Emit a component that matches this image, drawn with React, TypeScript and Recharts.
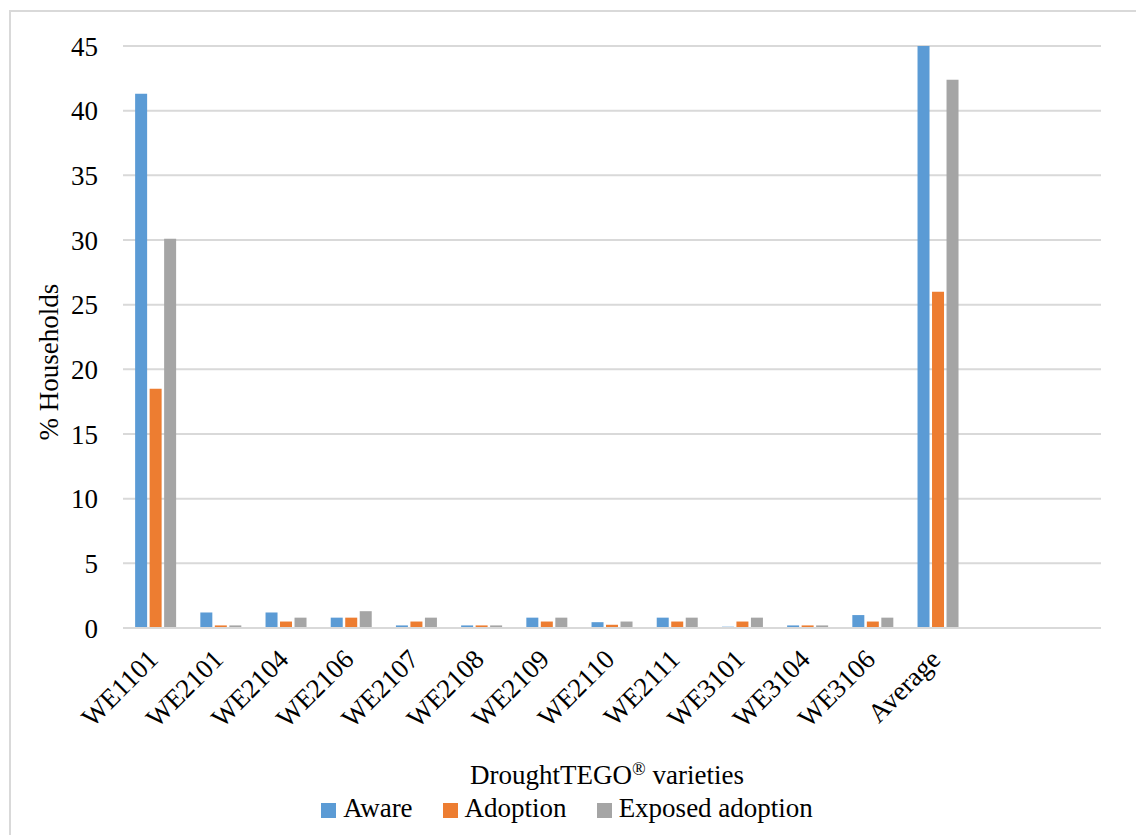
import React from "react";
import { BarChart, Bar, XAxis, YAxis, CartesianGrid, Legend, Label } from "recharts";

// two empty slots after "Average", as in the original sheet
const categories = [
  "WE1101", "WE2101", "WE2104", "WE2106", "WE2107", "WE2108", "WE2109",
  "WE2110", "WE2111", "WE3101", "WE3104", "WE3106", "Average", " ", "  ",
];
const aware = [41.3, 1.2, 1.2, 0.8, 0.2, 0.2, 0.8, 0.45, 0.8, 0.1, 0.2, 1.0, 45.0];
const adoption = [18.5, 0.2, 0.5, 0.8, 0.5, 0.2, 0.5, 0.25, 0.5, 0.5, 0.2, 0.5, 26.0];
const exposed = [30.1, 0.2, 0.8, 1.3, 0.8, 0.2, 0.8, 0.5, 0.8, 0.8, 0.2, 0.8, 42.4];
const yTicks = [0, 5, 10, 15, 20, 25, 30, 35, 40, 45];
const seriesOrder = ["aware", "adoption", "exposed"];

const data = categories.map((name, i) => ({
  name,
  aware: aware[i],
  adoption: adoption[i],
  exposed: exposed[i],
}));

const FONT = "Liberation Serif, Times New Roman, serif";

function XTick({ x, y, payload }: any) {
  const ax = x + 4;
  const ay = y + 33;
  return (
    <text
      x={ax}
      y={ay}
      textAnchor="end"
      fontSize={27}
      fontFamily={FONT}
      fill="#000"
      transform={`rotate(-45, ${ax}, ${ay})`}
    >
      {payload.value.trim()}
    </text>
  );
}

function XTitle({ viewBox }: any) {
  const { x, y, width, height } = viewBox;
  return (
    <text x={x + width / 2 - 5} y={y + height - 9} textAnchor="middle" fontSize={27} fontFamily={FONT} fill="#000">
      DroughtTEGO
      <tspan fontSize={18} dy={-9}>®</tspan>
      <tspan dy={9}> varieties</tspan>
    </text>
  );
}

function YTitle({ viewBox }: any) {
  const { y, height } = viewBox;
  const cx = 49;
  const cy = y + height / 2 + 25;
  return (
    <text
      x={cx}
      y={cy}
      textAnchor="middle"
      dominantBaseline="central"
      fontSize={27}
      fontFamily={FONT}
      fill="#000"
      transform={`rotate(-90, ${cx}, ${cy})`}
    >
      % Households
    </text>
  );
}

export default function App() {
  return (
    <div
      style={{
        position: "absolute",
        left: 0,
        top: 0,
        width: 1136,
        height: 835,
        background: "#fff",
        fontFamily: FONT,
      }}
    >
      <div
        style={{
          position: "absolute",
          left: 9,
          top: 10,
          right: 0,
          bottom: 0,
          borderLeft: "2px solid #d9d9d9",
          borderTop: "2px solid #d9d9d9",
        }}
      />
      <BarChart
        width={1136}
        height={835}
        data={data}
        margin={{ top: 46, right: 35, left: 63, bottom: 12 }}
        barCategoryGap="18.6%"
        barGap={2.5}
      >
        <CartesianGrid vertical={false} stroke="#d9d9d9" strokeWidth={2} />
        <XAxis
          dataKey="name"
          interval={0}
          height={165}
          tickSize={0}
          tickMargin={0}
          tick={<XTick />}
          axisLine={{ stroke: "#d9d9d9", strokeWidth: 2 }}
          tickLine={false}
        >
          <Label content={<XTitle />} />
        </XAxis>
        <YAxis
          width={60}
          domain={[0, 45]}
          ticks={yTicks}
          interval={0}
          tickSize={0}
          tickMargin={25}
          axisLine={false}
          tickLine={false}
          tick={{ fill: "#000", fontSize: 27, fontFamily: FONT }}
        >
          <Label content={<YTitle />} />
        </YAxis>
        <Legend
          verticalAlign="bottom"
          iconType="square"
          iconSize={15}
          itemSorter={(item: any) => seriesOrder.indexOf(item.dataKey)}
          wrapperStyle={{ left: 63, width: 1038, height: 30, lineHeight: "30px", fontSize: 27, fontFamily: FONT }}
          formatter={(value: string) => <span style={{ color: "#000", marginLeft: 3, marginRight: 20 }}>{value}</span>}
        />
        <Bar dataKey="aware" name="Aware" fill="#5B9BD5" isAnimationActive={false} />
        <Bar dataKey="adoption" name="Adoption" fill="#ED7D31" isAnimationActive={false} />
        <Bar dataKey="exposed" name="Exposed adoption" fill="#A5A5A5" isAnimationActive={false} />
      </BarChart>
    </div>
  );
}
